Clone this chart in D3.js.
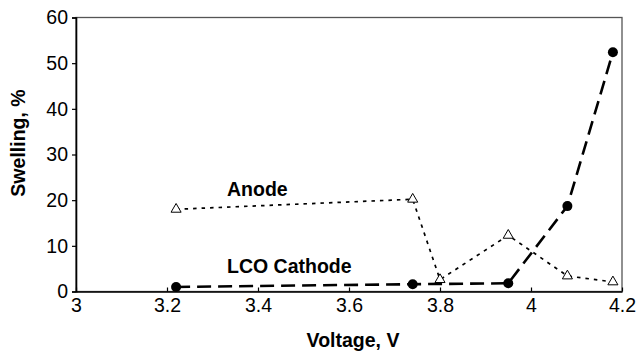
<!DOCTYPE html>
<html>
<head>
<meta charset="utf-8">
<script src="https://cdn.jsdelivr.net/npm/d3@7"></script>
<style>
  html, body { margin: 0; padding: 0; background: #fff; }
  svg { display: block; }
  text { font-family: "Liberation Sans", Arial, sans-serif; fill: #000; }
</style>
</head>
<body>
<svg id="chart" width="637" height="356"></svg>
<script>
// Swelling vs. voltage for anode and LCO cathode
const anodeVoltage   = [3.22, 3.74, 3.80, 3.95, 4.08, 4.18];
const anodeSwelling  = [18.0, 20.2, 2.6, 12.3, 3.4, 2.1];
const cathodeVoltage = [3.22, 3.74, 3.95, 4.08, 4.18];
const cathodeSwelling = [1.0, 1.6, 1.8, 18.7, 52.4];
const xTicks = [3, 3.2, 3.4, 3.6, 3.8, 4, 4.2];
const yTicks = [0, 10, 20, 30, 40, 50, 60];

const svg = d3.select("#chart");
const plot = { left: 76, right: 622, top: 17.5, bottom: 291.5 };
const tickFont = 19.5, titleFont = 19.5;

const x = d3.scaleLinear().domain([3, 4.2]).range([plot.left, plot.right]);
const y = d3.scaleLinear().domain([0, 60]).range([plot.bottom, plot.top]);

// plot frame
svg.append("rect")
  .attr("x", plot.left).attr("y", plot.top)
  .attr("width", plot.right - plot.left).attr("height", plot.bottom - plot.top)
  .attr("fill", "none").attr("stroke", "#555").attr("stroke-width", 1.3);

// y axis (ticks point outward)
const gy = svg.append("g").attr("transform", `translate(${plot.left},0)`)
  .call(d3.axisLeft(y).tickValues(yTicks).tickSize(4).tickPadding(4).tickFormat(d3.format("d")));
gy.select(".domain").attr("stroke", "#000").attr("stroke-width", 1.6);
gy.selectAll(".tick line").attr("stroke", "#000").attr("stroke-width", 1.2);
gy.selectAll(".tick text").attr("font-size", tickFont).attr("font-family", "Liberation Sans, Arial, sans-serif");

// x axis (ticks point inward)
const gx = svg.append("g").attr("transform", `translate(0,${plot.bottom})`)
  .call(d3.axisBottom(x).tickValues(xTicks).tickSizeInner(-4).tickSizeOuter(0).tickPadding(8).tickFormat(d => d3.format("~g")(d)));
gx.select(".domain").attr("stroke", "#000").attr("stroke-width", 1.6);
gx.selectAll(".tick line").attr("stroke", "#000").attr("stroke-width", 1.2);
gx.selectAll(".tick text").attr("font-size", tickFont).attr("y", 7).attr("dy", "0.71em")
  .attr("font-family", "Liberation Sans, Arial, sans-serif");

// axis titles
svg.append("text")
  .attr("x", 353).attr("y", 347)
  .attr("text-anchor", "middle").attr("font-weight", "bold").attr("font-size", titleFont)
  .text("Voltage, V");
svg.append("text")
  .attr("transform", `translate(25,143) rotate(-90)`)
  .attr("text-anchor", "middle").attr("font-weight", "bold").attr("font-size", titleFont)
  .text("Swelling, %");

const anode = anodeVoltage.map((v, i) => ({ v, s: anodeSwelling[i] }));
const cathode = cathodeVoltage.map((v, i) => ({ v, s: cathodeSwelling[i] }));
const line = d3.line().x(d => x(d.v)).y(d => y(d.s));

// anode: dotted line with open triangles
svg.append("path").datum(anode)
  .attr("d", line).attr("fill", "none")
  .attr("stroke", "#000").attr("stroke-width", 1.7)
  .attr("stroke-dasharray", "3.5,5");
svg.selectAll(".tri").data(anode).join("path")
  .attr("class", "tri")
  .attr("transform", d => `translate(${x(d.v)},${y(d.s)})`)
  .attr("d", d3.symbol(d3.symbolTriangle, 44)())
  .attr("fill", "#fff").attr("stroke", "#000").attr("stroke-width", 1);

// cathode: long-dash line with filled circles
svg.append("path").datum(cathode)
  .attr("d", line).attr("fill", "none")
  .attr("stroke", "#000").attr("stroke-width", 2.6)
  .attr("stroke-dasharray", "14,7");
svg.selectAll(".dot").data(cathode).join("circle")
  .attr("class", "dot")
  .attr("cx", d => x(d.v)).attr("cy", d => y(d.s)).attr("r", 5)
  .attr("fill", "#000");

// series labels
svg.append("text").attr("x", 227).attr("y", 196)
  .attr("font-weight", "bold").attr("font-size", titleFont).text("Anode");
svg.append("text").attr("x", 227).attr("y", 272.5)
  .attr("font-weight", "bold").attr("font-size", titleFont).text("LCO Cathode");
</script>
</body>
</html>
